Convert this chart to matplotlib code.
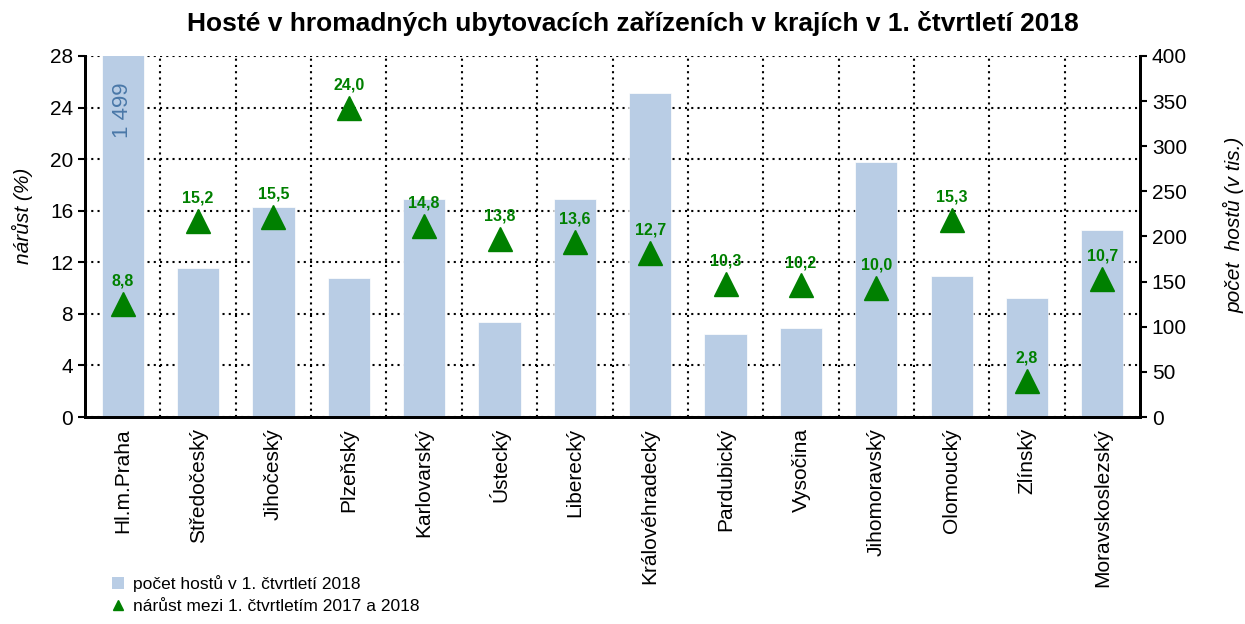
#!/usr/bin/env python3

import matplotlib
matplotlib.use("Agg")
import matplotlib.pyplot as plt
from matplotlib.patches import Patch
from matplotlib.lines import Line2D
from matplotlib.ticker import MultipleLocator

plt.rcParams['font.family'] = ['Liberation Sans', 'DejaVu Sans']

# data
regions = ["Hl.m.Praha", "Středočeský", "Jihočeský", "Plzeňský", "Karlovarský",
           "Ústecký", "Liberecký", "Královéhradecký", "Pardubický", "Vysočina",
           "Jihomoravský", "Olomoucký", "Zlínský", "Moravskoslezský"]
guests = [1499, 165, 233, 154, 242, 105, 242, 359, 92, 99, 282, 156, 132, 207]
growth = [8.8, 15.2, 15.5, 24.0, 14.8, 13.8, 13.6, 12.7, 10.3, 10.2, 10.0, 15.3, 2.8, 10.7]

bar_color = "#b9cde5"
green = "#008000"
x = list(range(len(regions)))

fig = plt.figure(figsize=(12.45, 6.24), dpi=100)
ax = fig.add_axes([0.0683, 0.3317, 0.8474, 0.5786])
ax_bar = ax.twinx()
ax_mark = ax.twinx()

# layering: grid (ax) < bars < markers
ax.set_zorder(0)
ax_bar.set_zorder(1)
ax_mark.set_zorder(2)
ax_bar.patch.set_visible(False)
ax_mark.patch.set_visible(False)

ax.set_xlim(-0.5, len(regions) - 0.5)
ax.set_ylim(0, 28)
ax.yaxis.set_major_locator(MultipleLocator(4))
ax.set_xticks(x)
ax.set_xticklabels(regions, rotation=90, fontsize=15)
ax.set_xticks([i + 0.5 for i in x[:-1]], minor=True)
ax.tick_params(axis='x', which='both', length=0, pad=8)
ax.tick_params(axis='y', labelsize=15, length=5, width=1.5, direction='out')
ax.grid(True, axis='y', which='major', color='black', linestyle=(0, (1, 2)), linewidth=1.5)
ax.grid(True, axis='x', which='minor', color='black', linestyle=(0, (1, 2)), linewidth=1.5)
ax.set_ylabel("nárůst (%)", fontsize=15, style='italic')
ax.yaxis.set_label_coords(-0.049, 0.557)

# bars on right axis
ax_bar.bar(x, guests, width=0.56, color=bar_color, edgecolor='white', linewidth=0.5)
ax_bar.set_ylim(0, 400)
ax_bar.yaxis.set_major_locator(MultipleLocator(50))
ax_bar.tick_params(axis='y', labelsize=15, length=5, width=1.5, direction='out')
ax_bar.set_ylabel("počet  hostů (v tis.)", fontsize=15, style='italic')
ax_bar.yaxis.set_label_coords(1.079, 0.532)

# label of clipped Praha bar
top = ax_bar.get_ylim()[1]
for i, v in enumerate(guests):
    if v > top:
        ax_bar.text(i, top - 60, f"{v:,.0f}".replace(",", " "), rotation=90,
                    ha='center', va='center', fontsize=16, color='#4a78a8')

# growth markers
ax_mark.set_ylim(ax.get_ylim())
ax_mark.set_yticks([])
ax_mark.plot(x, growth, linestyle='none', marker='^', markersize=17, color=green)
for i, g in zip(x, growth):
    ax_mark.annotate(f"{g:.1f}".replace(".", ","), (i, g), xytext=(0, 11),
                     textcoords='offset points', ha='center', va='bottom',
                     fontsize=11.5, fontweight='bold', color=green)

for a in (ax, ax_bar, ax_mark):
    a.spines['top'].set_visible(False)
    for s in ('left', 'right', 'bottom'):
        a.spines[s].set_linewidth(2)

fig.suptitle("Hosté v hromadných ubytovacích zařízeních v krajích v 1. čtvrtletí 2018",
             fontsize=19, fontweight='bold', x=0.508, y=0.983, va='top')

handles = [Patch(facecolor=bar_color, edgecolor='none'),
           Line2D([], [], linestyle='none', marker='^', markersize=7, color=green)]
labels = ["počet hostů v 1. čtvrtletí 2018", "nárůst mezi 1. čtvrtletím 2017 a 2018"]
fig.legend(handles, labels, loc='upper left', bbox_to_anchor=(0.09, 0.078),
           frameon=False, fontsize=12.5, handlelength=0.7, handletextpad=0.5,
           labelspacing=0.4, borderpad=0, borderaxespad=0)

fig.savefig("out.png", dpi=100)
